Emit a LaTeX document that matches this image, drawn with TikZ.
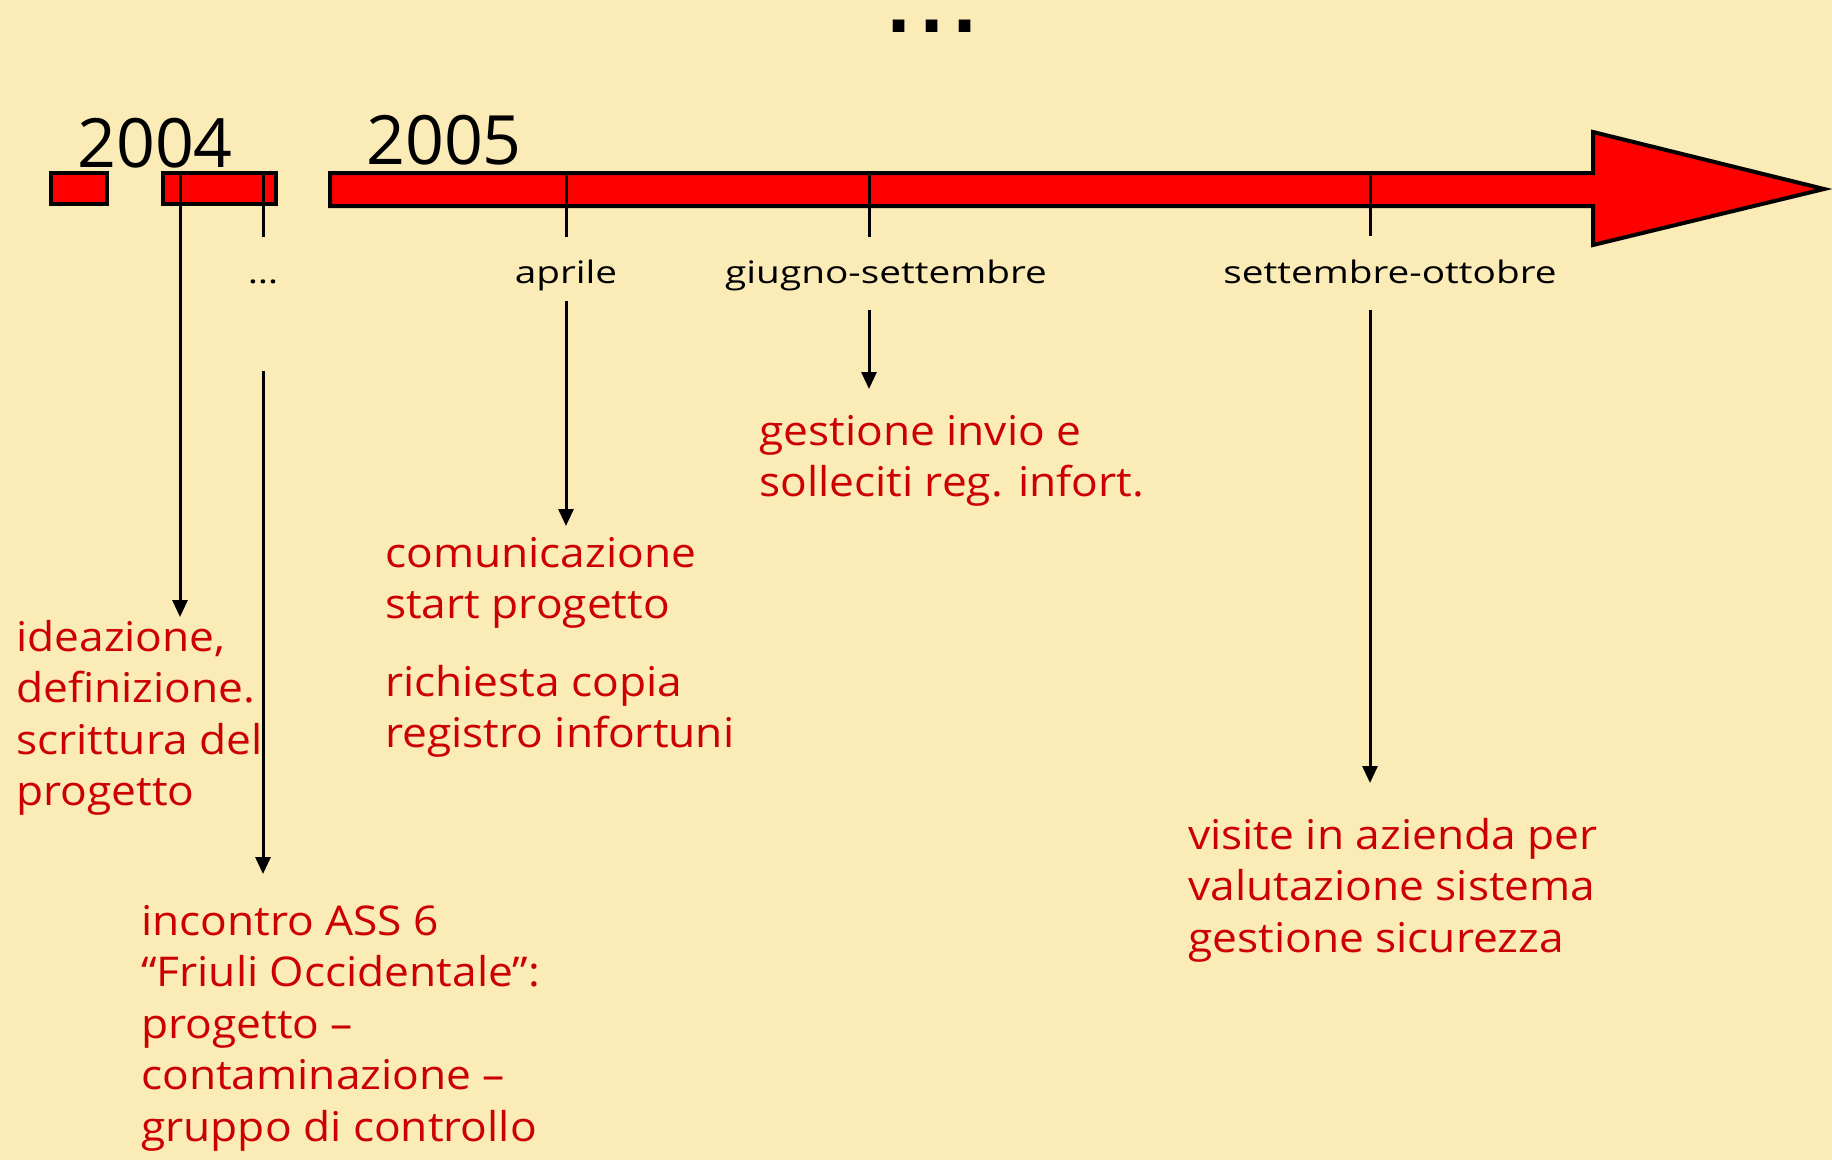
\documentclass[tikz,border=0pt]{standalone}
\usepackage{fontspec}
\setmainfont{Open Sans}
\newfontfamily\evfont{Open Sans}[FakeStretch=1.08]
\newfontfamily\mofont{Open Sans}[FakeStretch=1.25]
\newfontfamily\dotfont{DejaVu Sans}
\usetikzlibrary{arrows.meta}
\definecolor{bgyellow}{HTML}{FBEBB7}
\definecolor{txtred}{HTML}{CC0000}
\newcommand{\evlines}[1]{\begin{tabular}[t]{@{}l@{}}#1\end{tabular}}
\begin{document}
\begin{tikzpicture}[x=1pt,y=-1pt,
  barshape/.style={fill=red, draw=black, line width=4pt, line join=miter},
  tickline/.style={draw=black, line width=3pt},
  conn/.style={draw=black, line width=3pt, -{Triangle[width=15pt,length=17pt]}},
  evtext/.style={text=txtred, font=\evfont\fontsize{41}{51.5}\selectfont, anchor=base west, inner sep=0pt},
  monthlbl/.style={font=\mofont\fontsize{31}{36}\selectfont, anchor=base, inner sep=0pt},
  yearlbl/.style={font=\fontsize{68}{80}\selectfont, anchor=base, inner sep=0pt}]
\fill[bgyellow] (0,0) rectangle (1832,1160);
\useasboundingbox (0,0) rectangle (1832,1160);

% top dots
\node[font=\dotfont\bfseries\fontsize{66}{66}\selectfont, inner sep=0pt, anchor=base] (dots) at (932,32) {.\hspace{8pt}.\hspace{8pt}.};

% years
\node[yearlbl] (y2004) at (155,167) {2004};
\node[yearlbl] (y2005) at (444,164) {2005};

% bars
\draw[barshape] (51,173) rectangle (107,204);
\draw[barshape] (163,173) rectangle (276,204);
\draw[barshape] (330,173) -- (1593,173) -- (1593,132) -- (1824,189) -- (1593,245) -- (1593,206) -- (330,206) -- cycle;

% coordinates on the bars
\coordinate (b1) at (180,173);
\coordinate (b2) at (263,173);
\coordinate (b3) at (566,173);
\coordinate (b4) at (869,173);
\coordinate (b5) at (1370,173);
\coordinate (t2) at (263,237);
\coordinate (t3) at (566,237);
\coordinate (t4) at (869,237);
\coordinate (t5) at (1370,236);

% ticks
\draw[tickline] (b2) -- (t2);
\draw[tickline] (b3) -- (t3);
\draw[tickline] (b4) -- (t4);
\draw[tickline] (b5) -- (t5);

% month labels
\node[monthlbl] (m2) at (263,283) {…};
\node[monthlbl] (m3) at (566,283) {aprile};
\node[monthlbl] (m4) at (886,283) {giugno-settembre};
\node[monthlbl] (m5) at (1390,283) {settembre-ottobre};

% connector start/end points
\coordinate (e1) at (180,617);
\coordinate (s2) at (263,371);
\coordinate (e2) at (263,874);
\coordinate (s3) at (566,301);
\coordinate (e3) at (566,526);
\coordinate (s4) at (869,310);
\coordinate (e4) at (869,389);
\coordinate (s5) at (1370,310);
\coordinate (e5) at (1370,783);

% event texts
\node[evtext] (ev1) at (16,651) {\evlines{ideazione,\\definizione.\\scrittura del\\progetto}};
\node[evtext] (ev2) at (141,935) {\evlines{incontro ASS 6\\“Friuli Occidentale”:\\progetto –\\contaminazione –\\gruppo di controllo}};
\node[evtext] (ev3) at (385,567) {\evlines{comunicazione\\start progetto}};
\node[evtext] (ev3b) at (385,696) {\evlines{richiesta copia\\registro infortuni}};
\node[evtext] (ev4) at (759,445) {\evlines{gestione invio e\\solleciti reg. infort.}};
\node[evtext] (ev5) at (1188,849) {\evlines{visite in azienda per\\valutazione sistema\\gestione sicurezza}};

% connectors
\draw[conn] (b1) -- (e1);
\draw[conn] (s2) -- (e2);
\draw[conn] (s3) -- (e3);
\draw[conn] (s4) -- (e4);
\draw[conn] (s5) -- (e5);
\end{tikzpicture}
\end{document}
